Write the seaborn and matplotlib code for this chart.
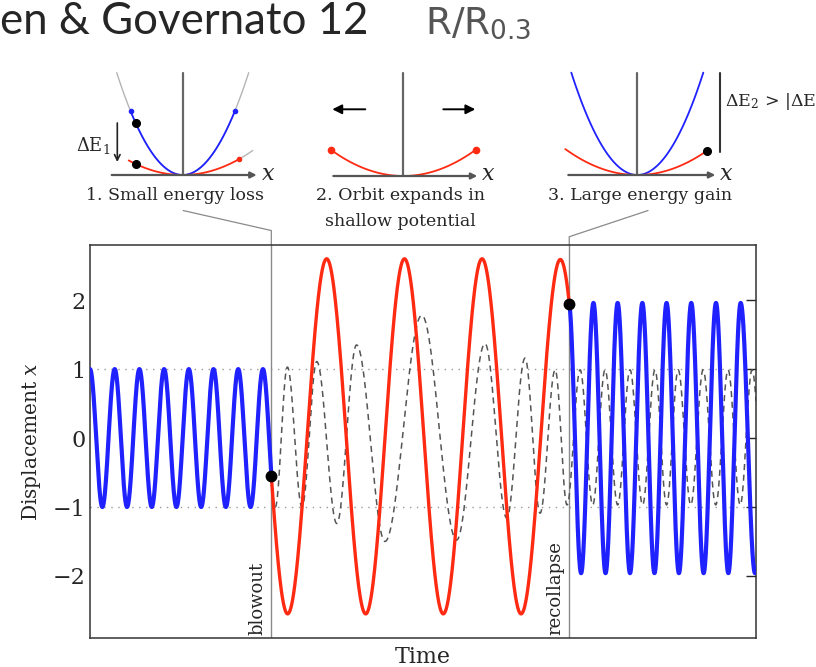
import numpy as np
import pandas as pd
import matplotlib
matplotlib.use('Agg')
import matplotlib.pyplot as plt
import seaborn as sns

# event times (time axis: one period of the original orbit = 1)
t_blowout = 7.34
t_recollapse = 19.40
t_end = 26.96

# original orbit before blowout: extrema (time, displacement)
blue_pre_t = [0.0, 0.5, 1.0, 1.5, 2.0, 2.5, 3.0, 3.5, 4.0, 4.5, 5.0, 5.5, 6.0, 6.5, 7.0, 7.5]
blue_pre_x = [1, -1, 1, -1, 1, -1, 1, -1, 1, -1, 1, -1, 1, -1, 1, -1]

# orbit in shallow potential after blowout
red_t = [6.46, 8.00, 9.58, 11.16, 12.73, 14.30, 15.87, 17.45, 19.04, 20.62]
red_x = [2.60, -2.55, 2.60, -2.55, 2.60, -2.55, 2.60, -2.55, 2.59, -2.55]

# orbit after recollapse
blue_post_t = [19.38, 19.88, 20.38, 20.87, 21.36, 21.86, 22.36, 22.85, 23.34,
               23.84, 24.34, 24.84, 25.34, 25.84, 26.34, 26.92, 27.40]
blue_post_x = [1.96, -1.96, 1.96, -1.96, 1.96, -1.96, 1.96, -1.96, 1.96,
               -1.96, 1.96, -1.96, 1.96, -1.96, 1.96, -1.96, 1.96]

# adiabatic comparison (dashed)
dash_t = [7.00, 7.50, 7.99, 8.58, 9.18, 9.99, 10.79, 11.94, 13.43, 14.84, 15.99,
          16.87, 17.61, 18.22, 18.83, 19.31, 19.84, 20.35, 20.85, 21.36, 21.86,
          22.37, 22.87, 23.34, 23.81, 24.32, 24.82, 25.33, 25.83, 26.32, 26.80, 27.30]
dash_x = [1.00, -1.00, 1.03, -1.00, 1.11, -1.24, 1.35, -1.50, 1.78, -1.48, 1.37,
          -1.16, 1.16, -1.09, 0.99, -0.97, 0.99, -0.97, 0.99, -0.97, 0.99,
          -0.97, 0.99, -0.97, 0.99, -0.97, 0.99, -0.97, 0.99, -0.97, 0.99, -0.97]

yticks = [-2, -1, 0, 1, 2]

# potential sketches: curvature of deep / shallow well
k_deep = 0.0235
k_shallow = 0.005

BLUE = '#1f22ff'
RED = '#ff2a12'
W, H = 816, 667


def wave(ts, vs, t0, t1, n=800):
    # smooth half-cosine between the read extrema
    ts = np.asarray(ts, float)
    vs = np.asarray(vs, float)
    t = np.linspace(t0, t1, n)
    i = np.clip(np.searchsorted(ts, t, side='right') - 1, 0, len(ts) - 2)
    s = (t - ts[i]) / (ts[i + 1] - ts[i])
    y = vs[i] + (vs[i + 1] - vs[i]) * (1 - np.cos(np.pi * s)) / 2
    return pd.DataFrame({'time': t, 'x': y})


def parabola(k, x0, x1, n=100):
    xx = np.linspace(x0, x1, n)
    return pd.DataFrame({'X': xx, 'Y': k * xx ** 2})


sns.set_style('white')
plt.rcParams['font.family'] = ['DejaVu Serif']
plt.rcParams['mathtext.fontset'] = 'dejavuserif'

fig = plt.figure(figsize=(W / 100, H / 100), dpi=100)
ax = fig.add_axes([90 / W, 1 - 638 / H, 666 / W, 393 / H])

pre = wave(blue_pre_t, blue_pre_x, 0, t_blowout)
red = wave(red_t, red_x, t_blowout, t_recollapse)
post = wave(blue_post_t, blue_post_x, t_recollapse, t_end)
dash = wave(dash_t, dash_x, t_blowout, t_end, n=1500)

for yv in (1, -1):
    ax.axhline(yv, color='#9a9a9a', lw=1.0, ls=(0, (1, 4)), zorder=0)
for tv in (t_blowout, t_recollapse):
    ax.axvline(tv, color='#8a8a8a', lw=1.0, zorder=1)

sns.lineplot(data=dash, x='time', y='x', ax=ax, color='#555555', lw=1.1,
             linestyle=(0, (4, 3)), estimator=None, sort=False, zorder=2)
sns.lineplot(data=pre, x='time', y='x', ax=ax, color=BLUE, lw=3.0,
             estimator=None, sort=False, zorder=3)
sns.lineplot(data=red, x='time', y='x', ax=ax, color=RED, lw=2.4,
             estimator=None, sort=False, zorder=3)
sns.lineplot(data=post, x='time', y='x', ax=ax, color=BLUE, lw=3.0,
             estimator=None, sort=False, zorder=3)

ax.plot([t_blowout, t_recollapse], [red['x'].iloc[0], post['x'].iloc[0]],
        'o', color='black', ms=7.5, zorder=5, clip_on=False)

ax.set_xlim(0, t_end)
ax.set_ylim(-2.9, 2.8)
ax.set_xticks([])
ax.set_yticks(yticks)
ax.tick_params(axis='y', direction='in', length=7, width=1, right=True,
               labelsize=16, pad=3)
for sp in ax.spines.values():
    sp.set_color('#333333')
    sp.set_linewidth(1.1)
ax.set_xlabel('Time', fontsize=16, labelpad=6)
ax.set_ylabel('Displacement $x$', fontsize=14.5, labelpad=7)

ax.text(t_blowout - 0.2, -2.86, 'blowout', rotation=90, ha='right', va='bottom',
        fontsize=13)
ax.text(t_recollapse - 0.2, -2.86, 'recollapse', rotation=90, ha='right',
        va='bottom', fontsize=13)

# connector lines up to the sketches
ax.plot([t_blowout, t_blowout, 3.77], [2.8, 3.01, 3.30], color='#8a8a8a',
        lw=0.9, clip_on=False)
ax.plot([t_recollapse, t_recollapse, 22.59], [2.8, 2.92, 3.30], color='#8a8a8a',
        lw=0.9, clip_on=False)


def sketch_axes(x0, x1, y0, y1, vx, vy):
    a = fig.add_axes([x0 / W, 1 - y1 / H, (x1 - x0) / W, (y1 - y0) / H])
    a.set_xlim(x0 - vx, x1 - vx)
    a.set_ylim(vy - y1, vy - y0)
    a.axis('off')
    return a


def frame(a, xl, xr, top):
    a.plot([0, 0], [0, top], color='#666666', lw=1.6)
    a.annotate('', xy=(xr, 0), xytext=(xl, 0),
               arrowprops=dict(arrowstyle='-|>', color='#555555', lw=1.6,
                               mutation_scale=9, shrinkA=0, shrinkB=0))
    a.text(xr + 4, 1.5, '$x$', fontsize=16, ha='left', va='center')


def curve(a, df, color, lw=1.3):
    sns.lineplot(data=df, x='X', y='Y', ax=a, color=color, lw=lw,
                 estimator=None, sort=False)
    a.set_xlabel('')
    a.set_ylabel('')


cap_y = -21

# sketch 1: small energy loss
a1 = sketch_axes(100, 270, 66, 184, 182.7, 175)
curve(a1, parabola(k_deep, -66, 66), '#b5b5b5', 1.0)
curve(a1, parabola(k_shallow, 56, 70), '#b5b5b5', 1.0)
curve(a1, parabola(k_deep, -52, 52), BLUE)
curve(a1, parabola(k_shallow, -54, 56), RED)
a1.plot([-52, 52], [k_deep * 52 ** 2] * 2, 'o', color=BLUE, ms=3)
a1.plot([56], [k_shallow * 56 ** 2], 'o', color=RED, ms=3)
a1.plot([-47, -47], [k_deep * 47 ** 2, k_shallow * 47 ** 2], 'o', color='black', ms=5.5)
frame(a1, -71, 74, 102)
a1.annotate('', xy=(-65.4, 13), xytext=(-65.4, 52),
            arrowprops=dict(arrowstyle='->', color='#222222', lw=1.2,
                            shrinkA=0, shrinkB=0))
a1.text(-72, 30, r'$\Delta$E$_1$', fontsize=13, ha='right', va='center')
a1.text(-7.7, cap_y, '1. Small energy loss', fontsize=12.5, ha='center', va='center')

# sketch 2: orbit expands in shallow potential
a2 = sketch_axes(320, 500, 66, 184, 403.3, 176)
curve(a2, parabola(k_shallow, -72.5, 72.5), RED)
a2.plot([-72.5, 72.5], [k_shallow * 72.5 ** 2] * 2, 'o', color=RED, ms=4.5)
frame(a2, -70, 74, 103)
for xs, xe in ((-38, -71), (40, 72)):
    a2.annotate('', xy=(xe, 66.7), xytext=(xs, 66.7),
                arrowprops=dict(arrowstyle='-|>', color='black', lw=1.4,
                                mutation_scale=14, shrinkA=0, shrinkB=0))
a2.text(-3, cap_y + 1, '2. Orbit expands in', fontsize=12.5, ha='center', va='center')
a2.text(-3, cap_y - 25, 'shallow potential', fontsize=12.5, ha='center', va='center')

# sketch 3: large energy gain
a3 = sketch_axes(555, 816, 66, 184, 637.3, 175)
curve(a3, parabola(k_deep, -66, 66), BLUE)
curve(a3, parabola(k_shallow, -72, 69.4), RED)
a3.plot([69.4], [k_shallow * 69.4 ** 2], 'o', color='black', ms=5.5)
frame(a3, -69, 78, 102)
a3.plot([82.7, 82.7], [23.3, 102], color='#333333', lw=1.5)
a3.text(87.7, 73, r'$\Delta$E$_2$ > |$\Delta$E', fontsize=12.5,
        ha='left', va='center')
a3.text(2.7, cap_y, '3. Large energy gain', fontsize=12.5, ha='center', va='center')

# slide header
fig.text(0, 1 - 34 / H, 'en & Governato 12', fontsize=31.5, family=['Lato'],
         ha='left', va='baseline')
fig.text(425 / W, 1 - 34 / H, r'R/R$_{\mathregular{0.3}}$', fontsize=27,
         family=['DejaVu Sans'], color='#555555', ha='left', va='baseline')

fig.savefig('out.png', dpi=100)
